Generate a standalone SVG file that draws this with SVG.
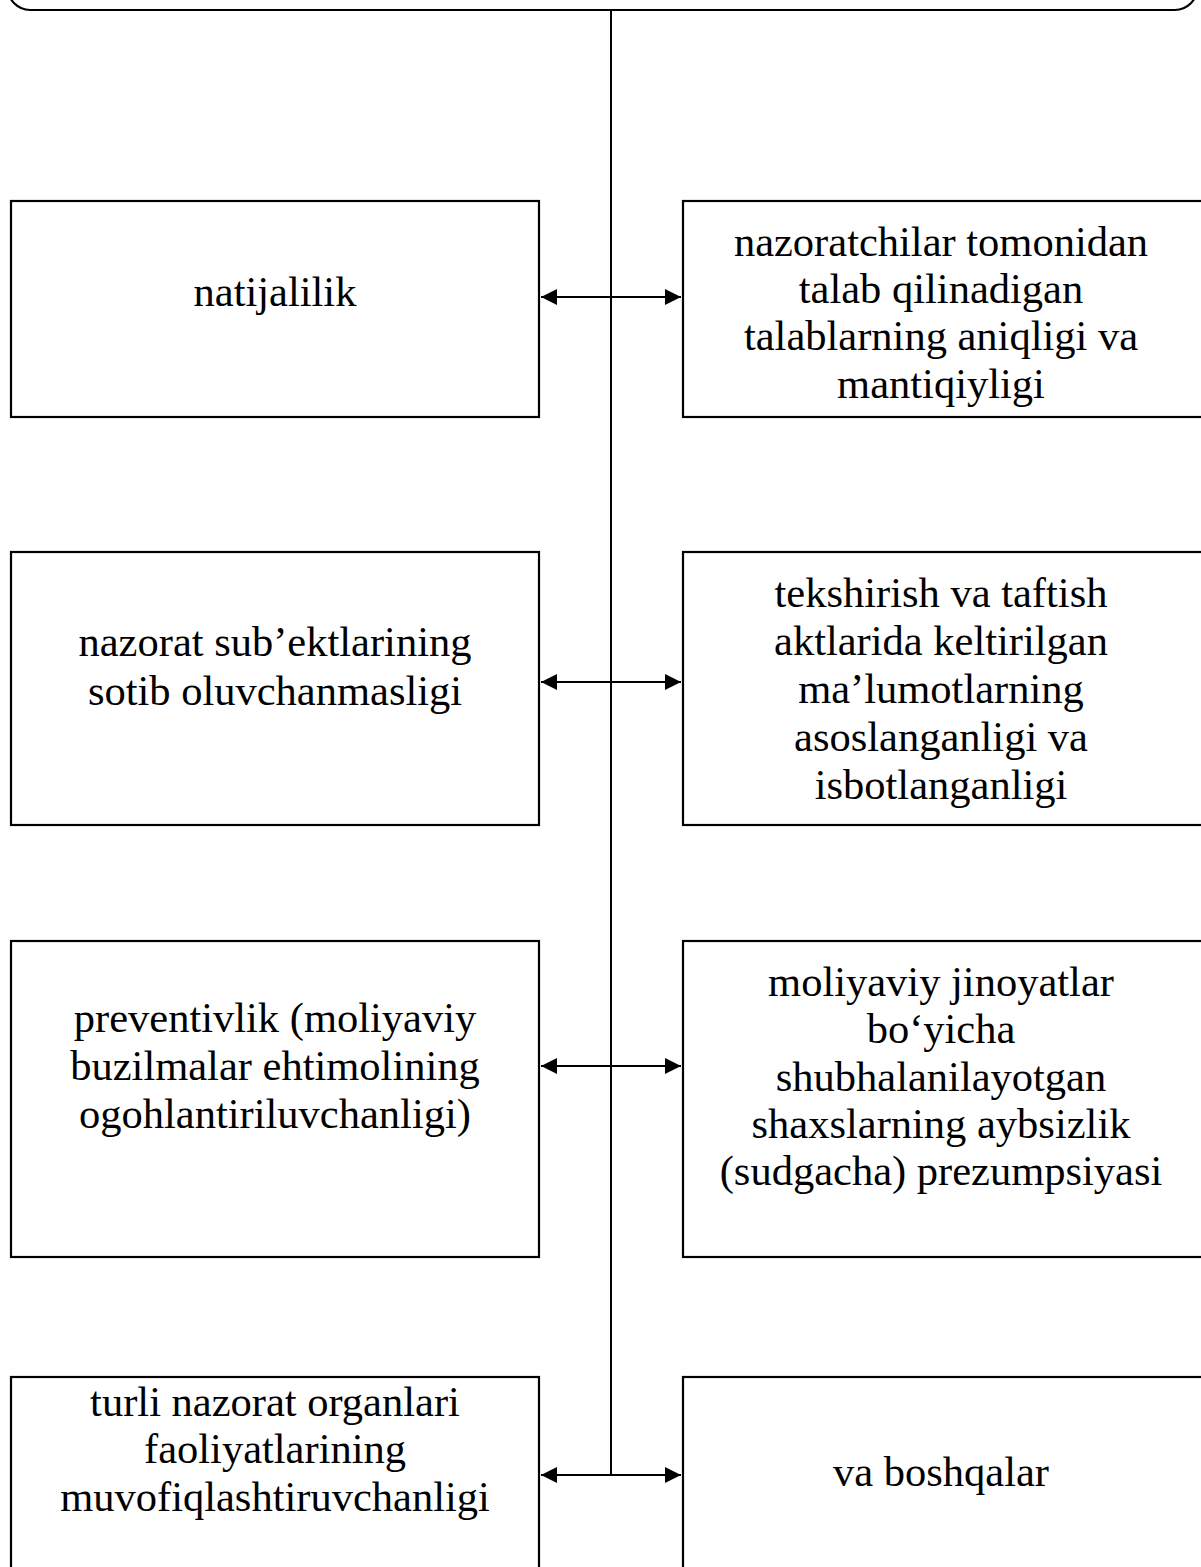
<svg xmlns="http://www.w3.org/2000/svg" width="1201" height="1567" viewBox="0 0 1201 1567">
<defs>
<marker id="ah" viewBox="0 0 16 16" refX="16" refY="8" markerWidth="16" markerHeight="16" markerUnits="userSpaceOnUse" orient="auto-start-reverse">
<path d="M0,0 L16,8 L0,16 Z" fill="#000"/>
</marker>
</defs>
<style>
.box{fill:#fff;stroke:#000;stroke-width:2.2}
.t{font-family:"Liberation Serif","Times New Roman",serif;font-size:42.5px;fill:#000;text-anchor:middle}
.ln{stroke:#000;stroke-width:2;fill:none}
</style>
<rect width="1201" height="1567" fill="#fff"/>
<g id="top">
<rect class="box" x="8" y="-100" width="1189" height="110" rx="22" ry="22" stroke-width="2.6"/>
</g>
<g id="connectors">
<line class="ln" x1="611" y1="10" x2="611" y2="1475"/>
<line class="ln" x1="541" y1="297" x2="681" y2="297" marker-start="url(#ah)" marker-end="url(#ah)"/>
<line class="ln" x1="541" y1="682" x2="681" y2="682" marker-start="url(#ah)" marker-end="url(#ah)"/>
<line class="ln" x1="541" y1="1066" x2="681" y2="1066" marker-start="url(#ah)" marker-end="url(#ah)"/>
<line class="ln" x1="541" y1="1475" x2="681" y2="1475" marker-start="url(#ah)" marker-end="url(#ah)"/>
</g>
<g id="n1">
<rect class="box" x="11" y="201" width="528" height="216"/>
<text class="t" x="275" y="306">natijalilik</text>
</g>
<g id="n2">
<rect class="box" x="683" y="201" width="530" height="216"/>
<text class="t" x="941" y="256">nazoratchilar tomonidan</text>
<text class="t" x="941" y="303">talab qilinadigan</text>
<text class="t" x="941" y="350">talablarning aniqligi va</text>
<text class="t" x="941" y="398">mantiqiyligi</text>
</g>
<g id="n3">
<rect class="box" x="11" y="552" width="528" height="273"/>
<text class="t" x="275" y="656">nazorat sub’ektlarining</text>
<text class="t" x="275" y="705">sotib oluvchanmasligi</text>
</g>
<g id="n4">
<rect class="box" x="683" y="552" width="530" height="273"/>
<text class="t" x="941" y="607">tekshirish va taftish</text>
<text class="t" x="941" y="655">aktlarida keltirilgan</text>
<text class="t" x="941" y="703">ma’lumotlarning</text>
<text class="t" x="941" y="751">asoslanganligi va</text>
<text class="t" x="941" y="799">isbotlanganligi</text>
</g>
<g id="n5">
<rect class="box" x="11" y="941" width="528" height="316"/>
<text class="t" x="275" y="1032">preventivlik (moliyaviy</text>
<text class="t" x="275" y="1080">buzilmalar ehtimolining</text>
<text class="t" x="275" y="1128">ogohlantiriluvchanligi)</text>
</g>
<g id="n6">
<rect class="box" x="683" y="941" width="530" height="316"/>
<text class="t" x="941" y="996">moliyaviy jinoyatlar</text>
<text class="t" x="941" y="1043">bo‘yicha</text>
<text class="t" x="941" y="1091">shubhalanilayotgan</text>
<text class="t" x="941" y="1138">shaxslarning aybsizlik</text>
<text class="t" x="941" y="1185">(sudgacha) prezumpsiyasi</text>
</g>
<g id="n7">
<rect class="box" x="11" y="1377" width="528" height="260"/>
<text class="t" x="275" y="1416">turli nazorat organlari</text>
<text class="t" x="275" y="1463">faoliyatlarining</text>
<text class="t" x="275" y="1511">muvofiqlashtiruvchanligi</text>
</g>
<g id="n8">
<rect class="box" x="683" y="1377" width="530" height="260"/>
<text class="t" x="941" y="1486">va boshqalar</text>
</g>
</svg>
